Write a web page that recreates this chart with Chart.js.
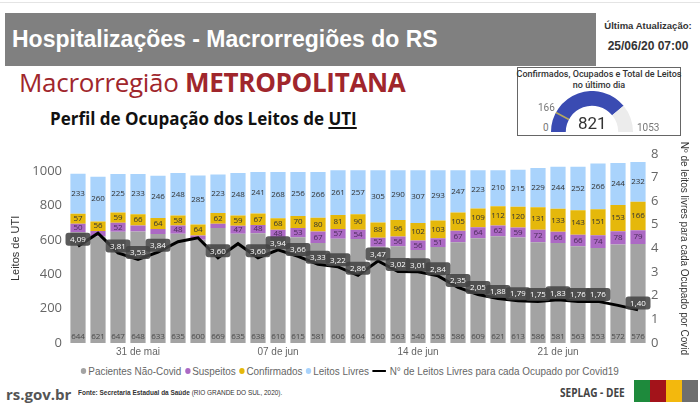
<!DOCTYPE html>
<html>
<head>
<meta charset="utf-8">
<script src="https://cdn.jsdelivr.net/npm/chart.js@4.4.1/dist/chart.umd.min.js"></script>
<style>
  html, body { margin: 0; padding: 0; background: #fff; }
  body { width: 700px; height: 415px; position: relative; overflow: hidden; font-family: "Liberation Sans", Arial, sans-serif; }
  .abs { position: absolute; }
  #topline { left: 0; top: 2px; width: 700px; height: 1px; background: #e4e4e4; }
  #header { left: 5px; top: 13px; width: 591px; height: 53px; background: #808080; }
  #header span { position: absolute; left: 7px; top: 13px; color: #fff; font: bold 23px "Liberation Sans", Arial, sans-serif; white-space: nowrap; }
  #upd1 { left: 600px; top: 20px; width: 96px; text-align: center; font: bold 9.5px "Liberation Sans", Arial, sans-serif; color: #333; }
  #upd2 { left: 600px; top: 39px; width: 96px; text-align: center; font: bold 12px "Liberation Sans", Arial, sans-serif; color: #333; }
  #macro { left: 19px; top: 64px; font: 26px "Open Sans", sans-serif; color: #a0262c; white-space: nowrap; letter-spacing: -0.3px; }
  #macro b { font-weight: 700; }
  #perfil { left: 50px; top: 107px; font: bold 17px "Open Sans", sans-serif; color: #111; white-space: nowrap; }
  #perfil u { text-decoration-thickness: 1.5px; text-underline-offset: 2px; }
  #gbox { left: 517px; top: 67px; width: 162px; height: 67px; border: 1px solid #666; box-sizing: content-box; }
  #gtitle { left: 516px; top: 69px; width: 166px; text-align: center; font: 500 9px/11px Roboto, sans-serif; color: #333; }
  #gcanvas { left: 551px; top: 91px; }
  .glab { font: 10px Roboto, sans-serif; color: #777; white-space: nowrap; }
  #gval { font: 17px Roboto, sans-serif; color: #333; }
  #chartwrap { left: 0; top: 140px; width: 700px; height: 222px; }
  #legend { left: 0; top: 365px; width: 700px; text-align: center; font: 11px "Liberation Sans", Arial, sans-serif; color: #666; white-space: nowrap; transform: scaleX(0.9); transform-origin: 349px 0; }
  #legend .it { display: inline-block; margin: 0 2px; }
  #legend .dot { display: inline-block; width: 6px; height: 6px; border-radius: 50%; margin-right: 2px; vertical-align: 1px; }
  #legend .ln { display: inline-block; width: 15px; height: 2px; background: #000; margin-right: 4px; vertical-align: 3px; }
  #rs { left: 6px; top: 384px; font: bold 15px "Open Sans", sans-serif; color: #555; }
  #fonte { left: 78px; top: 388px; font: 7.5px "Liberation Sans", Arial, sans-serif; color: #333; transform: scaleX(0.86); transform-origin: left top; white-space: nowrap; }
  #seplag { left: 560px; top: 384px; font: bold 12px "Open Sans", sans-serif; color: #444; transform: scaleX(0.84); transform-origin: left top; white-space: nowrap; }
  .sq { top: 380px; width: 16px; height: 22px; }
</style>
</head>
<body>
<div id="topline" class="abs"></div>
<div id="header" class="abs"><span>Hospitalizações - Macrorregiões do RS</span></div>
<div id="upd1" class="abs">Última Atualização:</div>
<div id="upd2" class="abs">25/06/20 07:00</div>
<div id="macro" class="abs">Macrorregião <b>METROPOLITANA</b></div>
<div id="perfil" class="abs">Perfil de Ocupação dos Leitos de <u>UTI</u></div>

<div id="gbox" class="abs"></div>
<div id="gtitle" class="abs">Confirmados, Ocupados e Total de Leitos<br>no último dia</div>
<div id="gcanvas" class="abs" style="width:82px;height:41px;"><canvas id="gauge"></canvas></div>
<div id="gmin" class="abs glab"></div>
<div id="gtarget" class="abs glab"></div>
<div id="gmax" class="abs glab"></div>
<div id="gval" class="abs"></div>

<div id="chartwrap" class="abs"><canvas id="main"></canvas></div>
<div id="legend" class="abs"></div>

<div id="rs" class="abs">rs.gov.br</div>
<div id="fonte" class="abs"><span style="font-weight:bold">Fonte: Secretaria Estadual da Saúde</span> (RIO GRANDE DO SUL, 2020).</div>
<div id="seplag" class="abs">SEPLAG - DEE</div>
<div class="abs sq" style="left:634px;background:#1e8a3c;"></div>
<div class="abs sq" style="left:650px;background:#a3131a;"></div>
<div class="abs sq" style="left:666px;background:#f3b80d;"></div>
<div class="abs sq" style="left:682px;background:#6e6e6e;"></div>

<script>
// ---------- DATA ----------
const categories = ['2020-05-28','2020-05-29','2020-05-30','2020-05-31','2020-06-01','2020-06-02','2020-06-03',
  '2020-06-04','2020-06-05','2020-06-06','2020-06-07','2020-06-08','2020-06-09','2020-06-10','2020-06-11',
  '2020-06-12','2020-06-13','2020-06-14','2020-06-15','2020-06-16','2020-06-17','2020-06-18','2020-06-19',
  '2020-06-20','2020-06-21','2020-06-22','2020-06-23','2020-06-24','2020-06-25'];
const xTickLabels = { '2020-05-31': '31 de mai', '2020-06-07': '07 de jun', '2020-06-14': '14 de jun', '2020-06-21': '21 de jun' };
const naoCovid    = [644,621,647,648,633,635,600,669,635,638,610,615,581,606,604,560,563,540,558,586,609,621,613,586,581,563,553,572,576];
const suspeitos   = [50,30,52,35,30,48,25,25,47,48,48,53,67,57,54,52,56,56,51,67,64,62,59,72,66,66,74,78,79];
const confirmados = [57,56,59,66,64,58,64,62,59,67,68,70,80,81,90,88,96,102,103,105,109,112,120,131,133,143,151,153,166];
const livres      = [233,260,225,233,246,248,285,223,248,241,268,256,266,261,257,305,290,307,293,247,223,210,215,229,244,252,266,244,232];
const livresPorCovid = [4.09,4.64,3.81,3.53,3.84,4.28,4.45,3.60,4.20,3.60,3.94,3.66,3.33,3.22,2.86,3.47,3.02,3.01,2.84,2.35,2.05,1.88,1.79,1.75,1.83,1.76,1.76,1.59,1.40];
const hiddenLineLabels = ['2020-05-29','2020-06-02','2020-06-03','2020-06-05','2020-06-24'];
const leftTicks = [0,200,400,600,800,1000];
const rightTicks = [0,1,2,3,4,5,6,7,8];
const seriesNames = ['Pacientes Não-Covid','Suspeitos','Confirmados','Leitos Livres','N° de Leitos Livres para cada Ocupado por Covid19'];
const gaugeMin = 0, gaugeTarget = 166, gaugeValue = 821, gaugeMax = 1053;

const colors = ['#a3a3a3', '#ac69c4', '#e5b80b', '#a9d3fc', '#000000'];
const fmt = v => v.toFixed(2).replace('.', ',');

// ---------- LEGEND (HTML) ----------
const lg = document.getElementById('legend');
seriesNames.forEach((n, i) => {
  const s = document.createElement('span'); s.className = 'it';
  s.innerHTML = (i < 4 ? `<span class="dot" style="background:${colors[i]}"></span>` : `<span class="ln"></span>`) + n;
  lg.appendChild(s);
});

// ---------- LABEL PLUGIN ----------
const labelPlugin = {
  id: 'labels',
  afterDatasetsDraw(chart) {
    const ctx = chart.ctx;
    ctx.save();
    ctx.textAlign = 'center'; ctx.textBaseline = 'middle';
    ctx.font = '8px "Open Sans", sans-serif';
    for (let d = 0; d < 4; d++) {
      const meta = chart.getDatasetMeta(d);
      const data = chart.data.datasets[d].data;
      meta.data.forEach((el, i) => {
        const h = Math.abs(el.base - el.y);
        if (d === 0) {
          ctx.fillStyle = '#4a4a4a';
          ctx.fillText(String(data[i]), el.x, el.base - 6);
        } else {
          if (h < 7.5) return;
          ctx.fillStyle = d === 1 ? '#4a2a5a' : '#333';
          ctx.fillText(String(data[i]), el.x, (el.y + el.base) / 2);
        }
      });
    }
    const meta = chart.getDatasetMeta(4);
    const data = chart.data.datasets[4].data;
    meta.data.forEach((pt, i) => {
      if (hiddenLineLabels.includes(categories[i])) return;
      const t = fmt(data[i]);
      const w = 25, h = 13, x = pt.x, y = pt.y - 7;
      ctx.fillStyle = 'rgba(68,68,68,0.88)';
      ctx.beginPath();
      ctx.roundRect(x - w / 2, y - h / 2, w, h, 3);
      ctx.fill();
      ctx.fillStyle = '#fff';
      ctx.fillText(t, x, y + 0.5);
    });
    ctx.restore();
  }
};

// ---------- MAIN CHART ----------
const barDs = (label, data, color) => ({ type: 'bar', label, data, backgroundColor: color, stack: 's', yAxisID: 'y', order: 1, barPercentage: 0.76, categoryPercentage: 1.0 });
new Chart(document.getElementById('main'), {
  data: {
    labels: categories,
    datasets: [
      barDs(seriesNames[0], naoCovid, colors[0]),
      barDs(seriesNames[1], suspeitos, colors[1]),
      barDs(seriesNames[2], confirmados, colors[2]),
      barDs(seriesNames[3], livres, colors[3]),
      { type: 'line', label: seriesNames[4], data: livresPorCovid, borderColor: '#000', borderWidth: 3, pointRadius: 0, tension: 0, yAxisID: 'y1', order: 0 }
    ]
  },
  options: {
    responsive: true, maintainAspectRatio: false, animation: false,
    layout: { padding: { top: 9, left: 0, right: 0, bottom: 0 } },
    plugins: { legend: { display: false }, tooltip: { enabled: false } },
    scales: {
      x: {
        stacked: true,
        grid: { display: false, drawTicks: false }, border: { display: false },
        ticks: { autoSkip: false, maxRotation: 0, padding: 3, color: '#666', font: { family: 'Liberation Sans', size: 10 },
          callback: (v, i) => xTickLabels[categories[i]] || '' },
        afterFit: s => { s.height = 19; }
      },
      y: {
        stacked: true, position: 'left', min: 0, max: 1100,
        grid: { display: false, drawTicks: false }, border: { display: false },
        afterBuildTicks: s => { s.ticks = leftTicks.map(v => ({ value: v })); },
        ticks: { padding: 6, color: '#666', font: { family: 'Open Sans', size: 13 }, callback: v => String(v) },
        title: { display: true, text: 'Leitos de UTI', color: '#333', font: { family: 'Liberation Sans', size: 11 }, padding: { top: 9, bottom: 0 } },
        afterFit: s => { s.width = 68; }
      },
      y1: {
        position: 'right', min: 0, max: 8,
        grid: { display: false, drawTicks: false }, border: { display: false },
        afterBuildTicks: s => { s.ticks = rightTicks.map(v => ({ value: v })); },
        ticks: { padding: 3, color: '#666', font: { family: 'Open Sans', size: 13 }, callback: v => String(v) },
        title: { display: true, text: 'Nº de leitos livres para cada Ocupado por Covid', color: '#333', font: { family: 'Liberation Sans', size: 10 }, padding: { top: 10, bottom: 0 } },
        afterFit: s => { s.width = 52; }
      }
    }
  },
  plugins: [labelPlugin]
});

// ---------- GAUGE ----------
const markerPlugin = {
  id: 'marker',
  afterDatasetsDraw(chart) {
    const arc = chart.getDatasetMeta(0).data[0];
    const a = -Math.PI + Math.PI * (gaugeTarget - gaugeMin) / (gaugeMax - gaugeMin);
    const ctx = chart.ctx;
    ctx.save();
    ctx.strokeStyle = '#b5a860'; ctx.lineWidth = 1.5;
    ctx.beginPath();
    ctx.moveTo(arc.x + Math.cos(a) * arc.innerRadius, arc.y + Math.sin(a) * arc.innerRadius);
    ctx.lineTo(arc.x + Math.cos(a) * arc.outerRadius, arc.y + Math.sin(a) * arc.outerRadius);
    ctx.stroke();
    ctx.restore();
  }
};
new Chart(document.getElementById('gauge'), {
  type: 'doughnut',
  data: { datasets: [{ data: [gaugeValue - gaugeMin, gaugeMax - gaugeValue], backgroundColor: ['#3a4bb2', '#ececec'], borderWidth: 0 }] },
  options: { responsive: true, maintainAspectRatio: false, animation: false, rotation: -90, circumference: 180, cutout: '64%',
    plugins: { legend: { display: false }, tooltip: { enabled: false } } },
  plugins: [markerPlugin]
});
const place = (id, txt, left, top) => { const e = document.getElementById(id); e.textContent = txt; e.style.left = left + 'px'; e.style.top = top + 'px'; };
place('gmin', String(gaugeMin), 543, 122);
place('gtarget', String(gaugeTarget), 538, 102);
place('gmax', String(gaugeMax), 637, 122);
place('gval', String(gaugeValue), 578, 113);
</script>
</body>
</html>
